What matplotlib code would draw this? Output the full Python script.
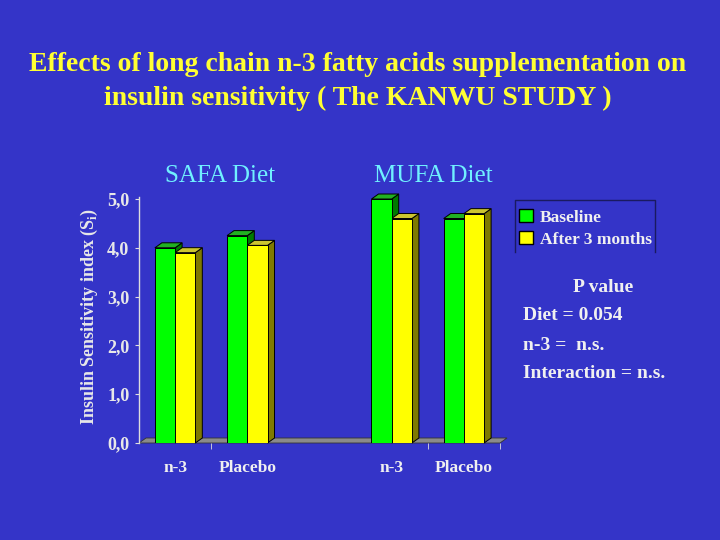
import matplotlib
matplotlib.use("Agg")
import matplotlib.pyplot as plt
from matplotlib.patches import Polygon
from matplotlib.lines import Line2D
import numpy as np

# ---- data ----
categories = ["n-3", "Placebo", "n-3", "Placebo"]
cat_pos = [0, 1, 3, 4]
baseline = [4.0, 4.25, 5.0, 4.6]
after3 = [3.9, 4.05, 4.6, 4.7]
diet_labels = ["SAFA Diet", "MUFA Diet"]
yticks = [0.0, 1.0, 2.0, 3.0, 4.0, 5.0]
ytick_labels = ["0,0", "1,0", "2,0", "3,0", "4,0", "5,0"]
series_names = ["Baseline", "After 3 months"]
pvalue_lines = ["Diet = 0.054", "n-3 =  n.s.", "Interaction = n.s."]

BG = "#3434C8"
GREEN = "#00FF00"
YELLOW = "#FFFF00"
GREEN_SIDE = "#007A00"
GREEN_TOP = "#22B022"
YEL_SIDE = "#7F7A00"
YEL_TOP = "#CCC630"
FLOOR = "#8A8A8A"
SERIF = ["Liberation Serif", "DejaVu Serif"]

W, H = 720, 540
fig = plt.figure(figsize=(7.2, 5.4), dpi=100, facecolor=BG)
ax = fig.add_axes([139 / W, 1 - 443 / H, (500 - 139) / W, (443 - 199) / H])
ax.set_facecolor(BG)
ax.set_xlim(-0.5, 4.5)
ax.set_ylim(0, 5)

# pixel -> data conversions for the 3-D depth effect
px_x = 5.0 / (500 - 139)
px_y = 5.0 / (443 - 199)
DX, DY = 7 * px_x, 5 * px_y
bw = 0.28

# floor
ax.add_patch(Polygon([(-0.5, 0), (4.5, 0), (4.5 + DX, DY), (-0.5 + DX, DY)],
                     closed=True, facecolor=FLOOR, edgecolor="#333333",
                     lw=0.6, clip_on=False, zorder=1))

def bar3d(x0, h, face, side, top):
    x1 = x0 + bw
    ax.bar(x0, h, width=bw, align="edge", color=face, edgecolor="black",
           linewidth=0.7, zorder=3)
    ax.add_patch(Polygon([(x1, 0), (x1 + DX, DY), (x1 + DX, h + DY), (x1, h)],
                         closed=True, facecolor=side, edgecolor="black",
                         lw=0.7, clip_on=False, zorder=2))
    ax.add_patch(Polygon([(x0, h), (x1, h), (x1 + DX, h + DY), (x0 + DX, h + DY)],
                         closed=True, facecolor=top, edgecolor="black",
                         lw=0.7, clip_on=False, zorder=2))

for p, b, a in zip(cat_pos, baseline, after3):
    bar3d(p - bw, b, GREEN, GREEN_SIDE, GREEN_TOP)
    bar3d(p, a, YELLOW, YEL_SIDE, YEL_TOP)

# axes styling
for s in ["top", "right", "bottom"]:
    ax.spines[s].set_visible(False)
ax.spines["left"].set_color("#DDDDDD")
ax.spines["left"].set_linewidth(1.0)
ax.spines["left"].set_bounds(0, 5.05)
ax.set_yticks(yticks)
ax.set_yticklabels(ytick_labels, fontfamily=SERIF, fontweight="bold",
                   fontsize=13, color="#E8E8E8")
ax.tick_params(axis="y", length=3, color="#DDDDDD", pad=4)
ax.set_xticks(cat_pos)
ax.set_xticklabels(categories, fontfamily=SERIF, fontweight="bold",
                   fontsize=12.5, color="#F0F0F0")
ax.tick_params(axis="x", length=0, pad=12)
ax.set_xticks([0.5, 3.5, 4.5], minor=True)
ax.tick_params(axis="x", which="minor", length=4, color="#DDDDDD", direction="out")

ax.set_ylabel("Insulin Sensitivity index (S$_\\mathregular{i}$)", fontfamily=SERIF,
              fontweight="bold", fontsize=13, color="#E8E8E8", labelpad=5)
ax.yaxis.set_label_coords(-0.108, 0.52)

# diet headers
for lab, xc in zip(diet_labels, [220, 433]):
    fig.text(xc / W, 1 - 176 / H, lab, ha="center", va="center",
             fontfamily=SERIF, fontsize=18, color="#70F0FF")

# title
fig.text(358 / W, 1 - 81.5 / H,
         "Effects of long chain n-3 fatty acids supplementation on\n"
         "insulin sensitivity ( The KANWU STUDY )",
         ha="center", va="center", fontfamily=SERIF, fontweight="bold",
         fontsize=20, color="#FFFF33", linespacing=1.45)

# legend
handles = [plt.Rectangle((0, 0), 1, 1, facecolor=GREEN, edgecolor="black"),
           plt.Rectangle((0, 0), 1, 1, facecolor=YELLOW, edgecolor="black")]
fig.legend(handles, series_names, loc="upper left",
           bbox_to_anchor=(507 / W, 1 - 197 / H), frameon=False,
           prop={"family": SERIF, "weight": "bold", "size": 12.5},
           labelcolor="#F0F0F0", handlelength=0.8, handleheight=0.8,
           handletextpad=0.4, labelspacing=0.3, borderpad=0.2)
fig.add_artist(Line2D([515 / W, 515 / W, 655 / W, 655 / W],
                      [1 - 252 / H, 1 - 200 / H, 1 - 200 / H, 1 - 252 / H],
                      color="#1A1A60", lw=1.0, transform=fig.transFigure))

# p-value block
fig.text(603 / W, 1 - 287 / H, "P value", ha="center", va="center",
         fontfamily=SERIF, fontweight="bold", fontsize=14, color="#F0F0F0")
for i, line in enumerate(pvalue_lines):
    fig.text(523 / W, 1 - (316 + 29 * i) / H, line, ha="left", va="center",
             fontfamily=SERIF, fontweight="bold", fontsize=14, color="#F0F0F0")

fig.savefig("out.png", dpi=100, facecolor=BG)
